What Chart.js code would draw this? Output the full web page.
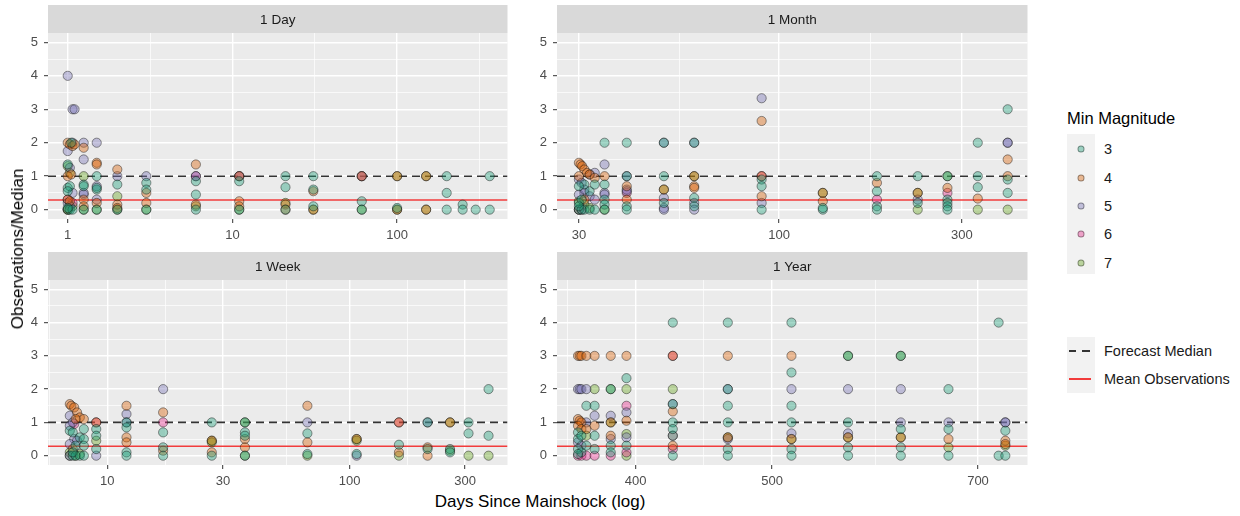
<!DOCTYPE html>
<html>
<head>
<meta charset="utf-8">
<script src="https://cdn.jsdelivr.net/npm/chart.js@4.4.1/dist/chart.umd.min.js"></script>
<style>
    body { margin: 0; background: #fff; font-family: "Liberation Sans", Arial, sans-serif; }
    #wrap { position: relative; width: 1240px; height: 516px; overflow: hidden; background: #fff; }
    canvas.panel { position: absolute; }
    .ytitle { position: absolute; left: 18px; top: 249px; transform: translate(-50%, -50%) rotate(-90deg);
              font-size: 17px; white-space: nowrap; color: #000; }
    .xtitle { position: absolute; left: 540px; top: 502px; transform: translate(-50%, -50%);
              font-size: 17px; white-space: nowrap; color: #000; }
    .lgTitle { position: absolute; left: 1067px; top: 108px; line-height: 20px; font-size: 16.5px; color: #000; }
    .keyBg { position: absolute; left: 1067px; width: 28px; background: #F2F2F2; }
    .keyDot { position: absolute; width: 5px; height: 5px; border-radius: 50%; transform: translate(-50%, -50%); }
    .keyLab { position: absolute; left: 1104px; transform: translateY(-50%); font-size: 14.5px; color: #1a1a1a; white-space: nowrap; }
</style>
</head>
<body>
<div id="wrap">
    <canvas id="pDay" class="panel" width="513" height="240" style="left:0px;top:5px"></canvas>
    <canvas id="pMonth" class="panel" width="513" height="240" style="left:520px;top:5px"></canvas>
    <canvas id="pWeek" class="panel" width="513" height="239" style="left:0px;top:252px"></canvas>
    <canvas id="pYear" class="panel" width="513" height="239" style="left:520px;top:252px"></canvas>
    <div class="ytitle">Observations/Median</div>
    <div class="xtitle">Days Since Mainshock (log)</div>
    <div id="legend"></div>
</div>
<script>
// Min magnitude classes and colours (Dark2)
const magnitudes = ['3', '4', '5', '6', '7'];
const magColors = ['#1B9E77', '#D95F02', '#7570B3', '#E7298A', '#66A61E'];

// Reference lines
const forecastMedian = 1;
const meanObs = { day: 0.29, month: 0.29, week: 0.28, year: 0.28 };

// y axis (shared)
const yMin = -0.28, yMax = 5.28;
const yMajor = [0, 1, 2, 3, 4, 5];
const yMinor = [0.5, 1.5, 2.5, 3.5, 4.5];

// x axis limits and breaks per panel
const dayX = { min: 0.759, max: 468, major: [1, 10, 100], minor: [3.162, 31.62, 316.2] };
const monthX = { min: 26.3, max: 445, major: [30, 100, 300], minor: [54.77, 173.2] };
const weekX = { min: 5.69, max: 449, major: [10, 30, 100, 300], minor: [5.776, 17.32, 54.77, 173.2] };
const yearX = { min: 351.7, max: 759, major: [400, 500, 700], minor: [357.8, 447.2, 591.6] };

// ---- 1 Day: [days, observations/median]
const dayM3 = [[1,0],[1.03,0],[1.07,0],[1,0.05],[1,0.65],[1.03,0.7],[1,1.35],[1.05,2.0],[1,0.55],
    [1.25,0],[1.25,0.75],[1.25,0.7],[1.5,0],[1.5,1.0],[1.5,0.6],[1.5,0.65],[2,0],[2,0.75],
    [3,0],[3,0.8],[3,0.6],[6,0],[6,0.85],[6,0.45],[11,0],[11,0.85],[21,1.0],[21,0.67],[21,0],
    [31,1.0],[31,0.6],[31,0.1],[61,0.25],[61,0],[100,0.05],[200,1.0],[200,0.5],[200,0],
    [250,0.15],[250,0],[300,0],[365,1.0],[365,0]];
const dayM4 = [[1,2.0],[1.03,1.95],[1.07,1.9],[1.1,1.95],[1,1.0],[1.05,1.05],[1,0.3],[1.03,0.25],[1,0],
    [1.25,1.85],[1.25,0.3],[1.25,0.1],[1.5,1.4],[1.5,1.35],[1.5,0.2],[2,1.2],[2,0.15],[2,0.05],
    [3,0.5],[3,0.2],[6,1.35],[6,0.15],[11,0.25],[11,0.1],[11,1.0],[21,0.15],[21,0],[31,0.55],[31,0],
    [61,1.0],[100,1.0],[100,0],[150,1.0],[150,0]];
const dayM5 = [[1,4.0],[1.07,3.0],[1.1,3.0],[1,1.75],[1.07,2.0],[1.03,1.25],[1.07,0.5],[1,0.2],[1.03,0.1],
    [1.25,2.0],[1.25,1.5],[1.25,0.45],[1.25,0.5],[1.5,2.0],[1.5,0.7],[1.5,0.3],[2,1.0],[3,1.0],
    [6,1.0],[11,1.0],[61,1.0]];
const dayM6 = [[1,0.3],[1.07,0.2],[6,1.0],[11,1.0],[61,1.0]];
const dayM7 = [[1,1.3],[1.03,1.1],[1.07,0.1],[1,0],[1.25,1.0],[1.25,0],[1.5,0],[2,0.4],[2,0],[3,0],
    [6,0.1],[11,0],[21,0.2],[31,0],[61,0],[100,1.0],[100,0],[150,1.0],[150,0]];

// ---- 1 Month
const monthM3 = [[30,0],[30.5,0],[31,0],[32,0],[33,0],[30,0.2],[30.5,0.3],[31,0.75],[30,0.7],[32,0.55],
    [33,0.75],[30,0.1],[35,2.0],[35,0.75],[35,0.3],[35,0.15],[35,0],[40,2.0],[40,1.0],[40,0.1],[40,0],
    [50,2.0],[50,1.0],[50,0.2],[60,2.0],[60,0.35],[60,0.1],[90,0.9],[90,0.7],[90,0],[130,0],[130,0.05],
    [180,1.0],[180,0.55],[180,0.1],[180,0],[230,1.0],[230,0.2],[275,1.0],[275,0.3],[275,0.2],
    [275,0.1],[275,0],[330,2.0],[330,1.0],[330,0.67],[395,3.0],[395,0.9],[395,0.5]];
const monthM4 = [[30,1.4],[30.3,1.35],[30.6,1.3],[31,1.2],[31.5,1.1],[32,1.05],[33,0.95],[30,1.0],[31,0.3],
    [35,1.0],[40,0.7],[40,0.3],[50,0.6],[60,1.0],[60,0.7],[60,0.65],[90,2.65],[90,1.0],[90,0.4],
    [130,0.5],[130,0.25],[180,0.8],[230,0.5],[275,0.65],[330,0.33],[395,1.5],[395,1.0]];
const monthM5 = [[33,1.1],[32,1.05],[30,0.9],[30.5,0.8],[31,0.5],[32,0.4],[30,0.45],[31,0.6],[33,0.3],
    [35,1.35],[35,0.5],[35,0.45],[40,1.0],[40,0.6],[40,0.55],[50,2.0],[50,0.35],[50,0.05],[50,0],
    [60,2.0],[60,0.2],[60,0],[90,3.33],[90,0.2],[230,0.3],[395,2.0],[395,2.0]];
const monthM6 = [[30,0],[30.5,0],[40,0.5],[90,1.0],[180,0.3],[275,0.5]];
const monthM7 = [[30,0.25],[31,0.15],[32,0.05],[30,0],[35,0],[50,0.6],[60,1.0],[130,0.5],[230,0.5],
    [230,0],[275,1.0],[330,0],[395,0]];

// ---- 1 Week
const weekM3 = [[7,0],[7.2,0],[7.4,0],[7.7,0],[7,0.75],[7.2,0.7],[7.4,0.3],[7.2,0.1],[7.7,0.55],
    [8,0.8],[8,0.5],[8,0.3],[8,0],[9,0.8],[9,0.6],[9,0.2],[12,1.0],[12,0.85],[12,0.1],[12,0],
    [17,0.7],[17,0.25],[17,0],[27,1.0],[27,0],[37,1.0],[37,0.7],[37,0.6],[37,0],[67,0.67],[67,0.05],
    [107,0.05],[160,0.33],[210,1.0],[210,0.2],[260,0.2],[260,0.1],[310,1.0],[310,0.67],[375,2.0],[375,0.6]];
const weekM4 = [[7,1.55],[7.1,1.5],[7.3,1.45],[7.5,1.3],[7.7,1.15],[8,1.1],[7.4,1.1],[7.2,0.2],[9,1.0],
    [12,1.5],[12,0.55],[12,0.4],[17,1.3],[17,0.15],[27,0.45],[27,0.1],[37,0.5],[37,0.25],[67,1.5],
    [67,0.4],[107,0.5],[160,1.0],[160,0.1],[210,0.25],[210,0],[260,1.0]];
const weekM5 = [[7,1.2],[7.2,1.0],[7,0.9],[7.3,0.5],[7.5,0.45],[7,0.35],[9,0],[12,1.25],[12,1.0],
    [17,2.0],[67,1.0],[107,0],[210,1.0]];
const weekM6 = [[7,0],[7.3,0.95],[9,1.0],[17,1.0],[160,1.0]];
const weekM7 = [[7,0.1],[7.4,0],[7.7,0.05],[9,0.45],[27,0.45],[27,0.4],[37,1.0],[37,0],[67,0],
    [107,0.5],[107,0.45],[160,0],[260,1.0],[260,0.15],[310,0],[375,0]];

// ---- 1 Year
const yearM3 = [[364,0.7],[364,0.5],[366,0.6],[364,0.2],[366,0.1],[364,0.05],[369,1.5],[369,0.3],
    [374,1.5],[374,0.6],[374,0.2],[384,2.0],[384,0.3],[384,0.1],[394,2.33],[394,0.3],
    [425,4.0],[425,1.55],[425,1.0],[425,0.8],[425,0],[465,4.0],[465,2.0],[465,1.5],[465,1.0],
    [465,0.2],[465,0],[516,4.0],[516,2.5],[516,1.5],[516,1.0],[516,0.2],[516,0],[566,3.0],[566,1.0],
    [566,0.25],[566,0],[617,3.0],[617,0.8],[617,0.25],[617,0],[667,2.0],[667,0.8],[667,0],
    [724,4.0],[724,0],[732,0.75],[732,0]];
const yearM4 = [[364,3.0],[365,3.0],[366,3.0],[369,3.0],[374,3.0],[384,3.0],[394,3.0],[364,1.1],
    [365,1.05],[366,1.0],[364,0.9],[366,0.8],[369,0.8],[374,0.9],[384,1.0],[384,0.6],[394,1.05],
    [425,3.0],[425,1.33],[425,0.3],[465,3.0],[465,0.55],[516,3.0],[516,0.5],[566,0.55],[617,0.55],
    [667,0.5],[732,0.45],[732,0.35]];
const yearM5 = [[364,2.0],[365,2.0],[366,2.0],[369,2.0],[364,0.4],[366,0.3],[369,1.0],[374,1.2],
    [384,1.2],[384,0.5],[394,1.3],[394,0.55],[425,1.55],[425,0.6],[465,2.0],[465,0.5],[516,2.0],
    [516,0.67],[566,2.0],[566,0.67],[617,2.0],[617,1.0],[667,1.0],[732,1.0],[732,1.0]];
const yearM6 = [[364,0],[366,0],[369,0],[374,0],[384,0],[394,1.5],[394,0.1],[425,3.0],[425,0.2]];
const yearM7 = [[369,0.6],[374,2.0],[384,2.0],[384,1.0],[394,2.0],[394,0.65],[394,0],[425,2.0],
    [425,0.6],[465,0.55],[516,0.5],[566,3.0],[566,0.55],[617,3.0],[617,0.55],[667,0.25],[732,0.3]];

const PANEL_BG = '#EBEBEB';
const STRIP_BG = '#D9D9D9';
const STRIP_H = 28;
const FONT = '"Liberation Sans", Arial, sans-serif';

function hexAlpha(hex, a) {
    const n = parseInt(hex.slice(1), 16);
    return `rgba(${(n >> 16) & 255}, ${(n >> 8) & 255}, ${n & 255}, ${a})`;
}

// Panel background + facet strip
const stripPlugin = {
    id: 'strip',
    beforeDraw(chart, args, opts) {
        const { ctx, chartArea: ca } = chart;
        ctx.save();
        ctx.fillStyle = PANEL_BG;
        ctx.fillRect(ca.left, ca.top, ca.right - ca.left, ca.bottom - ca.top);
        ctx.fillStyle = STRIP_BG;
        ctx.fillRect(ca.left, ca.top - STRIP_H, ca.right - ca.left, STRIP_H);
        ctx.fillStyle = '#1A1A1A';
        ctx.font = `13.5px ${FONT}`;
        ctx.textAlign = 'center';
        ctx.textBaseline = 'middle';
        ctx.fillText(opts.text, (ca.left + ca.right) / 2, ca.top - STRIP_H / 2 + 1);
        ctx.restore();
    }
};

function breakTicks(major, minor) {
    return major.map(v => ({ value: v, major: true }))
        .concat(minor.map(v => ({ value: v, major: false })))
        .sort((a, b) => a.value - b.value);
}

function gridOpts() {
    return {
        color: '#FFFFFF',
        lineWidth: c => (c.tick && c.tick.major ? 1.4 : 0.7),
        drawTicks: true,
        tickLength: 4,
        tickColor: c => (c.tick && c.tick.major ? '#333333' : 'rgba(0,0,0,0)'),
        tickWidth: 1
    };
}

function makePanel(canvasId, title, series, xb, mean, yAxisWidth) {
    const datasets = series.map((pts, i) => ({
        label: magnitudes[i],
        data: pts.map(p => ({ x: p[0], y: p[1] })),
        backgroundColor: hexAlpha(magColors[i], 0.4),
        borderColor: 'rgba(20, 20, 20, 0.5)',
        borderWidth: 0.9,
        pointRadius: 4.6,
        order: 1
    }));
    // reference lines, drawn under the points
    datasets.push({
        label: 'Forecast Median',
        data: [{ x: xb.min, y: forecastMedian }, { x: xb.max, y: forecastMedian }],
        showLine: true, pointRadius: 0, borderColor: '#333333', borderWidth: 1.6,
        borderDash: [8, 5], order: 5
    });
    datasets.push({
        label: 'Mean Observations',
        data: [{ x: xb.min, y: mean }, { x: xb.max, y: mean }],
        showLine: true, pointRadius: 0, borderColor: '#F23C3C', borderWidth: 1.5, order: 4
    });

    const ctx = document.getElementById(canvasId).getContext('2d');
    return new Chart(ctx, {
        type: 'scatter',
        data: { datasets },
        plugins: [stripPlugin],
        options: {
            responsive: false,
            animation: false,
            devicePixelRatio: 1,
            layout: { padding: { top: STRIP_H, right: 0, bottom: 0, left: 0 } },
            plugins: {
                legend: { display: false },
                tooltip: { enabled: false },
                strip: { text: title }
            },
            scales: {
                x: {
                    type: 'logarithmic',
                    min: xb.min,
                    max: xb.max,
                    bounds: 'data',
                    afterBuildTicks: s => { s.ticks = breakTicks(xb.major, xb.minor); },
                    afterFit: s => { s.height = 26; },
                    grid: gridOpts(),
                    border: { display: false },
                    ticks: {
                        autoSkip: false, maxRotation: 0, padding: 5,
                        color: '#4D4D4D', font: { family: FONT, size: 13 },
                        callback: (v, i, t) => (t[i].major ? String(v) : '')
                    }
                },
                y: {
                    type: 'linear',
                    min: yMin,
                    max: yMax,
                    bounds: 'data',
                    afterBuildTicks: s => { s.ticks = breakTicks(yMajor, yMinor); },
                    afterFit: s => { s.width = yAxisWidth; },
                    grid: gridOpts(),
                    border: { display: false },
                    ticks: {
                        autoSkip: false, padding: 6,
                        color: '#4D4D4D', font: { family: FONT, size: 13 },
                        callback: (v, i, t) => (t[i].major ? String(v) : '')
                    }
                }
            }
        }
    });
}

// Legend (HTML)
function buildLegend() {
    const el = document.getElementById('legend');
    let html = '<div class="lgTitle">Min Magnitude</div>';
    html += '<div class="keyBg" style="top:134px;height:140px"></div>';
    magnitudes.forEach((m, i) => {
        const y = 149.3 + i * 28.3;
        html += `<div class="keyDot" style="left:1081px;top:${y}px;background:${hexAlpha(magColors[i], 0.4)};border:0.8px solid rgba(20,20,20,0.4)"></div>`;
        html += `<div class="keyLab" style="top:${y}px">${m}</div>`;
    });
    html += '<div class="keyBg" style="top:337px;height:56px"></div>';
    html += '<div style="position:absolute;left:1069px;top:350px;width:22px;height:1.6px;' +
            'background:repeating-linear-gradient(90deg,#333 0 7.5px,transparent 7.5px 13.5px)"></div>';
    html += '<div style="position:absolute;left:1069px;top:378px;width:22px;height:1.5px;background:#F23C3C"></div>';
    html += '<div class="keyLab" style="top:351px">Forecast Median</div>';
    html += '<div class="keyLab" style="top:379px">Mean Observations</div>';
    el.innerHTML = html;
}

function init() {
    makePanel('pDay', '1 Day', [dayM3, dayM4, dayM5, dayM6, dayM7], dayX, meanObs.day, 48);
    makePanel('pMonth', '1 Month', [monthM3, monthM4, monthM5, monthM6, monthM7], monthX, meanObs.month, 37);
    makePanel('pWeek', '1 Week', [weekM3, weekM4, weekM5, weekM6, weekM7], weekX, meanObs.week, 48);
    makePanel('pYear', '1 Year', [yearM3, yearM4, yearM5, yearM6, yearM7], yearX, meanObs.year, 37);
    buildLegend();
}

init();
</script>
</body>
</html>
